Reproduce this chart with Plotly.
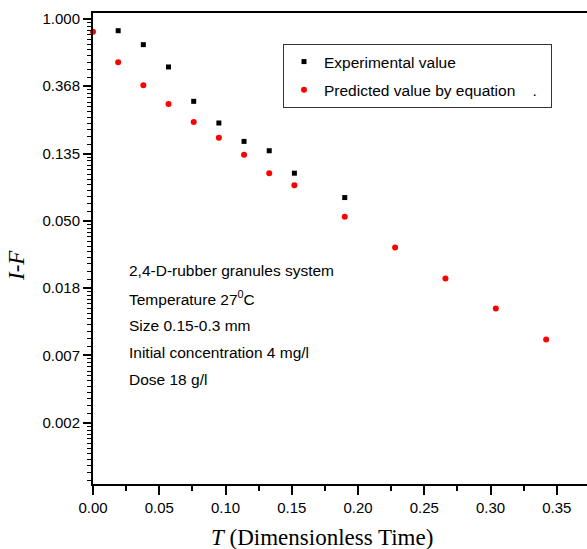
import numpy as np
import plotly.graph_objects as go

# ---- data ----
T_exp = [0.019, 0.038, 0.057, 0.076, 0.095, 0.114, 0.133, 0.152, 0.190]
F_exp = [0.840, 0.683, 0.490, 0.294, 0.213, 0.162, 0.141, 0.101, 0.0703]

T_pred = [0.000, 0.019, 0.038, 0.057, 0.076, 0.095, 0.114, 0.133, 0.152,
          0.190, 0.228, 0.266, 0.304, 0.342]
F_pred = [0.828, 0.526, 0.373, 0.283, 0.216, 0.171, 0.133, 0.101, 0.0845,
          0.0528, 0.0334, 0.0211, 0.0135, 0.00852]

y_tick_labels = ["1.000", "0.368", "0.135", "0.050", "0.018", "0.007", "0.002"]
x_tick_step = 0.05

info_lines = [
    "2,4-D-rubber granules system",
    "Temperature 27<sup>0</sup>C",
    "Size 0.15-0.3 mm",
    "Initial concentration 4 mg/l",
    "Dose 18 g/l",
]

# ---- axis decoration ----
y_major = np.exp(-np.arange(len(y_tick_labels) + 1))
y_minor = []
for a, b in zip(y_major[:-1], y_major[1:]):
    for k in range(1, 12):
        y_minor.append(a - k * (a - b) / 12.0)

SANS = "Liberation Sans Narrow, Arial Narrow, Liberation Sans, Arial, sans-serif"
SERIF = "Liberation Serif, Times New Roman, serif"
FS = 15

W, H = 587, 549
ml, mr, mt, mb = 93, 0, 13, 65
pw, ph = W - ml - mr, H - mt - mb

fig = go.Figure()
fig.add_trace(go.Scatter(
    x=T_exp, y=F_exp, mode="markers", name="Experimental value",
    legendgroup="a",
    marker=dict(symbol="square", size=5, color="black"),
    cliponaxis=False))
fig.add_trace(go.Scatter(
    x=T_pred, y=F_pred, mode="markers",
    name="Predicted value by equation\u00a0\u00a0\u00a0\u00a0.\u00a0\u00a0",
    legendgroup="b",
    marker=dict(symbol="circle", size=6, color="red"),
    cliponaxis=False))

def px_x(x):
    return (x - ml) / pw

def px_y(y):
    return (H - mb - y) / ph

annotations = []
line_y = [270, 298, 325, 352, 379]
for txt, yy in zip(info_lines, line_y):
    annotations.append(dict(
        text=txt, xref="paper", yref="paper", x=px_x(127), y=px_y(yy),
        xanchor="left", yanchor="middle", showarrow=False,
        font=dict(family=SANS, size=FS + 0.5, color="black")))

annotations.append(dict(
    text="<i>I-F</i>", xref="paper", yref="paper", x=px_x(16), y=px_y(266),
    xanchor="center", yanchor="middle", textangle=-90, showarrow=False,
    font=dict(family=SERIF, size=23, color="black")))
annotations.append(dict(
    text="<i>T</i> (Dimensionless Time)", xref="paper", yref="paper",
    x=px_x(322), y=px_y(537), xanchor="center", yanchor="middle",
    showarrow=False, font=dict(family=SERIF, size=23, color="black")))

fig.update_layout(
    width=W, height=H,
    margin=dict(l=ml, r=mr, t=mt, b=mb, pad=0),
    paper_bgcolor="white", plot_bgcolor="white",
    showlegend=True,
    legend=dict(
        x=px_x(283), y=px_y(44), xanchor="left", yanchor="top",
        bordercolor="#333333", borderwidth=1, bgcolor="white",
        font=dict(family=SANS, size=FS + 0.5, color="black"),
        itemclick=False, traceorder="grouped", tracegroupgap=5),
    annotations=annotations,
    xaxis=dict(
        range=[0, (W - ml - mr) / 66.25 * x_tick_step],
        tick0=0, dtick=x_tick_step, tickformat=".2f",
        ticks="outside", ticklen=9, tickwidth=1.5, tickcolor="black",
        minor=dict(dtick=x_tick_step / 2, ticks="outside", ticklen=5,
                   tickwidth=1.5, tickcolor="black", showgrid=False),
        showline=True, linecolor="black", linewidth=2, mirror=True,
        showgrid=False, zeroline=False, automargin=False,
        tickfont=dict(family=SANS, size=FS, color="black")),
    yaxis=dict(
        type="log",
        range=[np.log10(np.exp(-6.914)), np.log10(np.exp(0.089))],
        tickmode="array", tickvals=list(y_major[:len(y_tick_labels)]),
        ticktext=y_tick_labels,
        ticks="outside", ticklen=8, tickwidth=1.5, tickcolor="black",
        minor=dict(tickmode="array", tickvals=y_minor, ticks="outside",
                   ticklen=4, tickwidth=1.2, tickcolor="black",
                   showgrid=False),
        showline=True, linecolor="black", linewidth=2, mirror=False,
        showgrid=False, zeroline=False, automargin=False,
        tickfont=dict(family=SANS, size=FS, color="black")),
)

fig.write_html("out.html")
